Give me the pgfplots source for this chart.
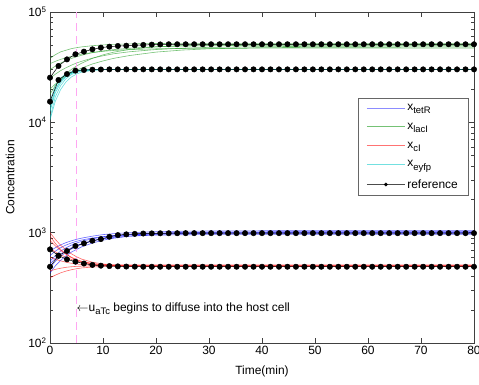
\documentclass[border=0pt]{standalone}
\usepackage{pgfplots}
\pgfplotsset{compat=1.18}
\usepackage{pgfplotstable}
\usepackage{fontspec}
\setmainfont{Liberation Sans}

\definecolor{cblue}{rgb}{0,0,1}
\definecolor{cgreen}{rgb}{0.1,0.6,0.1}
\definecolor{cred}{rgb}{1,0,0}
\definecolor{ccyan}{rgb}{0,0.78,0.78}
\definecolor{cpink}{rgb}{1,0.65,0.95}

\tikzset{simline/.style={line width=0.6pt, opacity=0.6}}
\newcommand\sub[1]{\raisebox{-0.5ex}{\fontsize{9.5}{11}\selectfont #1}}

\pgfplotstableread{
t  g1    g2    g3    g4    g5    g6
0  38000 30000 25000 20000 18000 34000
1  41000 32300 27300 22200 21500 35700
2  43500 34400 29400 24300 24700 37200
3  45000 36300 31200 26200 27500 38500
4  46500 37900 32900 27900 30100 39600
5  47500 39300 34500 29600 32400 40600
6  48300 40600 35800 31100 34400 41500
8  49500 42800 38200 33800 38000 42900
10 50300 44400 40100 36000 40900 44000
12 50900 45600 41800 38000 43200 44800
15 51400 46900 43600 40300 45800 45600
20 51800 48400 45700 43300 48300 46400
25 52000 49100 47000 45200 49600 46700
30 52000 49500 47800 46400 50300 46900
40 52000 49900 48500 47500 50800 47000
50 52000 50000 48800 47800 51000 47000
60 52000 50000 49000 47900 51000 47000
70 52000 50000 49000 48000 51000 47000
80 52000 50000 49000 48000 51000 47000
}\lacItab

\pgfplotstableread{
t  c1    c2    c3    c4    c5    c6
0  11000 12500 14000 15500 10500 13000
1  17000 18500 20000 21500 15500 19500
2  21500 22800 24000 25200 19800 23600
3  24800 25700 26600 27500 23200 26200
4  27000 27600 28200 28800 25700 27900
5  28400 28800 29200 29500 27400 29000
6  29200 29500 29700 29900 28500 29600
8  29800 29900 30000 30100 29600 30000
10 30000 30100 30100 30200 30000 30200
15 30000 30100 30100 30200 30100 30200
20 30000 30100 30100 30200 30100 30200
40 30000 30100 30100 30200 30100 30200
60 30000 30100 30100 30200 30100 30200
80 30000 30100 30100 30200 30100 30200
}\eyfptab

\pgfplotstableread{
t  b1   b2   b3   b4   b5   b6
0  550  480  620  430  680  520
1  620  550  680  500  730  585
2  680  610  730  560  775  640
3  728  665  772  615  812  688
4  770  710  805  665  843  728
5  805  750  835  705  870  765
6  835  785  858  745  893  795
8  880  840  895  805  930  845
10 915  885  920  855  960  880
12 940  920  940  890  980  905
15 965  955  958  930  1000 930
20 985  990  972  965  1020 950
25 995  1005 978  985  1030 957
30 1000 1012 980  993  1035 960
40 1000 1018 980  998  1040 960
50 1000 1020 980  1000 1040 960
60 1000 1020 980  1000 1040 960
70 1000 1020 980  1000 1040 960
80 1000 1020 980  1000 1040 960
}\tetRtab

\pgfplotstableread{
t  r1   r2   r3   r4   r5   r6   r7
0  1000 850  390  720  450  600  930
1  870  760  412  670  465  575  800
2  770  690  432  630  476  555  705
3  700  640  448  598  485  540  640
4  645  600  461  573  491  528  595
5  605  570  471  553  495  520  565
6  575  550  479  538  497  514  545
8  540  525  488  520  499  507  522
10 520  512  494  512  500  503  511
12 510  505  497  510  500  501  505
15 506  498  499  510  496  500  500
20 505  495  500  510  493  500  498
40 505  495  500  510  493  500  498
60 505  495  500  510  493  500  498
80 505  495  500  510  493  500  498
}\cItab

\pgfplotstableread{
t    lacI  eyfp  tetR cI
0    25400 15400 491  706
1.6  32400 24200 618  618
3.2  37200 27400 682  573
4.8  41400 29400 757  546
6.4  43700 29800 800  525
8.0  45900 30000 845  510
9.6  47500 30100 875  502
11.2 48500 30200 918  498
12.8 49200 30200 950  495
14.4 49500 30200 965  493
16.0 49900 30200 975  492
17.6 50300 30200 982  491
19.2 50600 30200 985  491
20.8 50800 30200 987  491
22.4 51000 30200 988  491
24.0 51000 30200 989  491
25.6 51000 30200 990  491
27.2 51000 30200 990  491
28.8 51000 30200 990  491
30.4 51000 30200 990  491
32.0 51000 30200 990  491
33.6 51000 30200 990  491
35.2 51000 30200 990  491
36.8 51000 30200 990  491
38.4 51000 30200 990  491
40.0 51000 30200 990  491
41.6 51000 30200 990  491
43.2 51000 30200 990  491
44.8 51000 30200 990  491
46.4 51000 30200 990  491
48.0 51000 30200 990  491
49.6 51000 30200 990  491
51.2 51000 30200 990  491
52.8 51000 30200 990  491
54.4 51000 30200 990  491
56.0 51000 30200 990  491
57.6 51000 30200 990  491
59.2 51000 30200 990  491
60.8 51000 30200 990  491
62.4 51000 30200 990  491
64.0 51000 30200 990  491
65.6 51000 30200 990  491
67.2 51000 30200 990  491
68.8 51000 30200 990  491
70.4 51000 30200 990  491
72.0 51000 30200 990  491
73.6 51000 30200 990  491
75.2 51000 30200 990  491
76.8 51000 30200 990  491
78.4 51000 30200 990  491
80.0 51000 30200 990  491
}\reftab

\begin{document}
\begin{tikzpicture}
\path[use as bounding box] (0,0) rectangle (479bp,385bp);
\begin{axis}[
  at={(50bp,42bp)}, anchor=south west,
  scale only axis, width=424bp, height=331bp,
  ymode=log,
  xmin=0, xmax=80, ymin=100, ymax=100000,
  xtick={0,10,20,30,40,50,60,70,80},
  ytick={100,1000,10000,100000},
  yticklabels={10\textsuperscript{2},10\textsuperscript{3},10\textsuperscript{4},10\textsuperscript{5}},
  minor ytick={200,300,400,500,600,700,800,900,2000,3000,4000,5000,6000,7000,8000,9000,20000,30000,40000,50000,60000,70000,80000,90000},
  tick align=inside,
  major tick length=5bp, minor tick length=3bp,
  /pgf/number format/assume math mode=true,
  ticklabel style={font=\fontsize{12}{14}\selectfont},
  label style={font=\fontsize{12}{14}\selectfont},
  xlabel={Time(min)}, ylabel={Concentration},
  xlabel style={at={(axis description cs:0.5,-0.085)}, anchor=center},
  ylabel style={at={(axis description cs:-0.094,0.5)}, anchor=center},
  axis line style={black!75},
  every tick/.style={black!75},
  legend style={at={(axis description cs:0.986,0.74)}, anchor=north east,
    font=\fontsize{12}{14}\selectfont, draw=black!60, row sep=7bp,
    inner xsep=8bp, inner ysep=4bp, cells={anchor=west}},
  legend image code/.code={\draw[mark repeat=2,mark phase=2,#1] plot coordinates {(0bp,0bp) (19bp,0bp) (38bp,0bp)};},
]
\addlegendimage{color=cblue!45, line width=1pt, no marks}
\addlegendentry{x\sub{tetR}}
\addlegendimage{color=cgreen!60, line width=1pt, no marks}
\addlegendentry{x\sub{lacI}}
\addlegendimage{color=cred!55, line width=1pt, no marks}
\addlegendentry{x\sub{cI}}
\addlegendimage{color=ccyan!55, line width=1pt, no marks}
\addlegendentry{x\sub{eyfp}}
\addlegendimage{color=black!70, line width=0.5pt, mark=*, mark size=1.6bp, mark options={black}}
\addlegendentry{reference}
% tetR
\addplot[simline, cblue, no marks, forget plot] table[x=t,y=b1]{\tetRtab};
\addplot[simline, cblue, no marks, forget plot] table[x=t,y=b2]{\tetRtab};
\addplot[simline, cblue, no marks, forget plot] table[x=t,y=b3]{\tetRtab};
\addplot[simline, cblue, no marks, forget plot] table[x=t,y=b4]{\tetRtab};
\addplot[simline, cblue, no marks, forget plot] table[x=t,y=b5]{\tetRtab};
\addplot[simline, cblue, no marks, forget plot] table[x=t,y=b6]{\tetRtab};
% lacI
\addplot[simline, cgreen, no marks, forget plot] table[x=t,y=g1]{\lacItab};
\addplot[simline, cgreen, no marks, forget plot] table[x=t,y=g2]{\lacItab};
\addplot[simline, cgreen, no marks, forget plot] table[x=t,y=g3]{\lacItab};
\addplot[simline, cgreen, no marks, forget plot] table[x=t,y=g4]{\lacItab};
\addplot[simline, cgreen, no marks, forget plot] table[x=t,y=g5]{\lacItab};
\addplot[simline, cgreen, no marks, forget plot] table[x=t,y=g6]{\lacItab};
% cI
\addplot[simline, cred, no marks, forget plot] table[x=t,y=r1]{\cItab};
\addplot[simline, cred, no marks, forget plot] table[x=t,y=r2]{\cItab};
\addplot[simline, cred, no marks, forget plot] table[x=t,y=r3]{\cItab};
\addplot[simline, cred, no marks, forget plot] table[x=t,y=r4]{\cItab};
\addplot[simline, cred, no marks, forget plot] table[x=t,y=r5]{\cItab};
\addplot[simline, cred, no marks, forget plot] table[x=t,y=r6]{\cItab};
\addplot[simline, cred, no marks, forget plot] table[x=t,y=r7]{\cItab};
% eyfp
\addplot[simline, ccyan, no marks, forget plot] table[x=t,y=c1]{\eyfptab};
\addplot[simline, ccyan, no marks, forget plot] table[x=t,y=c2]{\eyfptab};
\addplot[simline, ccyan, no marks, forget plot] table[x=t,y=c3]{\eyfptab};
\addplot[simline, ccyan, no marks, forget plot] table[x=t,y=c4]{\eyfptab};
\addplot[simline, ccyan, no marks, forget plot] table[x=t,y=c5]{\eyfptab};
\addplot[simline, ccyan, no marks, forget plot] table[x=t,y=c6]{\eyfptab};
% dashed line
\addplot[cpink, line width=1.1pt, dash pattern=on 8bp off 5bp, forget plot] coordinates {(5,100) (5,100000)};
% reference
\addplot[black, line width=0.5pt, mark=*, mark size=2.7bp, forget plot] table[x=t,y=tetR]{\reftab};
\addplot[black, line width=0.5pt, mark=*, mark size=2.7bp, forget plot] table[x=t,y=lacI]{\reftab};
\addplot[black, line width=0.5pt, mark=*, mark size=2.7bp, forget plot] table[x=t,y=cI]{\reftab};
\addplot[black, line width=0.5pt, mark=*, mark size=2.7bp, forget plot] table[x=t,y=eyfp]{\reftab};
\node[anchor=west, inner sep=0pt, font=\fontsize{12}{14}\selectfont] at (axis cs:5,205) {$\leftarrow$u\sub{aTc} begins to diffuse into the host cell};
\end{axis}
\end{tikzpicture}
\end{document}
